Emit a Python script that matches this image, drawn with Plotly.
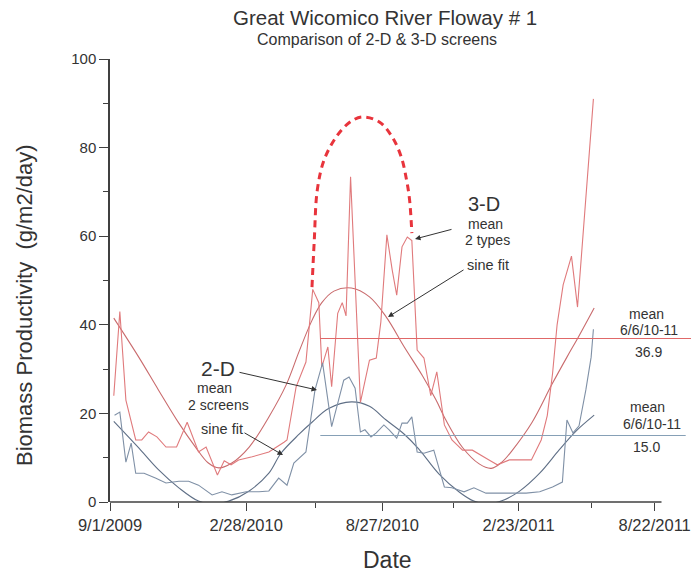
import plotly.graph_objects as go

# ---------------- data ----------------
d3_dates = ["2009-09-06","2009-09-14","2009-09-22","2009-10-05","2009-10-13","2009-10-22","2009-11-02",
            "2009-11-14","2009-11-28","2009-12-12","2009-12-27","2010-01-06","2010-01-21","2010-01-30",
            "2010-02-08","2010-02-18","2010-03-08","2010-03-30","2010-04-19","2010-04-23","2010-05-05",
            "2010-05-18","2010-05-27","2010-06-04","2010-06-08","2010-06-16","2010-06-21","2010-06-29",
            "2010-07-05","2010-07-10","2010-07-16","2010-07-29","2010-08-10","2010-08-19","2010-08-25",
            "2010-09-02","2010-09-09","2010-09-15","2010-09-22","2010-09-29","2010-10-05","2010-10-12",
            "2010-10-21","2010-10-30","2010-11-07","2010-11-17","2010-11-27","2010-12-11","2010-12-24",
            "2011-01-05","2011-01-15","2011-01-26","2011-02-11","2011-02-24","2011-03-12","2011-03-25",
            "2011-04-02","2011-04-09","2011-04-15","2011-04-23","2011-05-04","2011-05-12","2011-06-02"]
d3_values = [24, 43, 23, 14, 14, 15.8, 14.7, 12.4, 12.4, 18, 11.3, 12.4, 6.1, 9.3, 8.4, 9.5, 10.2, 11.3,
             13.5, 14, 26, 31.6, 48, 45, 30.5, 35, 26, 42.6, 45, 42, 73.4, 22.5, 32, 32.5, 40.6, 60.3,
             52.4, 46.7, 57.6, 59.8, 59, 34.3, 32.5, 24, 29.4, 17.4, 14, 11.7, 11.7, 10.6, 9.5, 8.4, 9.5,
             9.5, 9.5, 14, 19.5, 29, 40, 49, 55.5, 44, 91]

d2_dates = ["2009-09-07","2009-09-14","2009-09-22","2009-09-29","2009-10-05","2009-10-16","2009-10-31",
            "2009-11-14","2009-12-01","2009-12-14","2009-12-27","2010-01-14","2010-01-27","2010-02-09",
            "2010-02-28","2010-03-17","2010-03-30","2010-04-12","2010-04-23","2010-05-02","2010-05-18",
            "2010-05-26","2010-05-30","2010-06-09","2010-06-21","2010-07-07","2010-07-14","2010-07-22",
            "2010-07-29","2010-08-04","2010-08-12","2010-08-19","2010-08-29","2010-09-05","2010-09-15",
            "2010-09-22","2010-09-29","2010-10-05","2010-10-12","2010-10-21","2010-11-03","2010-11-17",
            "2010-11-27","2010-12-13","2010-12-26","2011-01-11","2011-01-28","2011-02-14","2011-03-05",
            "2011-03-23","2011-04-09","2011-04-22","2011-04-28","2011-05-06","2011-05-14","2011-05-23",
            "2011-05-30","2011-06-02"]
d2_values = [19.6, 20.3, 9, 13.3, 6.5, 6.5, 5.4, 4.3, 4.7, 4.7, 3.8, 1.6, 2.3, 1.6, 2.3, 2.3, 2.5, 5.4,
             3.8, 8.8, 11.3, 20, 25.3, 31.4, 17, 27.5, 28.2, 25.7, 15.8, 16.3, 14.7, 15.6, 17.4, 16.3,
             14.4, 17.8, 17.8, 19.2, 11.3, 11, 11.7, 3.4, 3.2, 2.3, 3.2, 2, 2, 2, 2, 2.3, 3.4, 4.5, 18.5,
             15.6, 17.2, 25.3, 32.7, 39]

sine3_dates = ["2009-09-06","2009-10-09","2009-11-04","2009-12-01","2009-12-23","2010-01-09","2010-01-23",
               "2010-02-09","2010-03-04","2010-03-30","2010-04-22","2010-05-09","2010-05-26","2010-06-08",
               "2010-06-24","2010-07-17","2010-08-10","2010-09-01","2010-09-25","2010-10-19","2010-11-06",
               "2010-11-19","2010-12-11","2011-01-02","2011-01-18","2011-02-01","2011-02-14","2011-03-13",
               "2011-04-08","2011-04-28","2011-05-13","2011-06-03"]
sine3_values = [41.5, 32.7, 25.3, 17.8, 12.4, 8.8, 7.7, 8.8, 12.4, 19.2, 26.5, 34, 41, 45, 47.6, 48.3,
                46.3, 41.8, 35, 28.5, 23, 18.5, 12.3, 8.6, 7.6, 9.0, 11.5, 18, 26.5, 32.7, 37.2, 43.8]

sine2_dates = ["2009-09-06","2009-10-09","2009-11-04","2009-12-01","2009-12-27","2010-01-14","2010-02-05",
               "2010-03-04","2010-03-30","2010-04-15","2010-05-09","2010-05-26","2010-06-17","2010-07-17",
               "2010-08-10","2010-09-01","2010-09-25","2010-10-14","2010-11-10","2010-12-07","2010-12-26",
               "2011-01-14","2011-02-01","2011-02-24","2011-03-23","2011-04-18","2011-05-10","2011-06-03"]
sine2_values = [18.2, 12.2, 7.3, 3.2, 0.2, -0.4, 0.2, 2.5, 6.5, 11, 15.3, 18, 21.1, 22.6, 21.6, 18.5,
                15.3, 12, 6.3, 2.2, 0.2, -0.4, 0.3, 2.4, 6.5, 11.8, 16, 19.6]

dash_dates = ["2010-05-26","2010-05-29","2010-06-02","2010-06-11","2010-06-27","2010-07-14","2010-07-31",
              "2010-08-23","2010-09-09","2010-09-21","2010-09-28","2010-10-02","2010-10-05"]
dash_values = [48.5, 59, 70.4, 77.2, 82.4, 85.6, 86.9, 85.8, 82.4, 77.9, 72.7, 68.2, 60.7]

mean3_dates = ["2010-06-06", "2011-10-09"]
mean3_value = 36.9
mean2_dates = ["2010-06-06", "2011-10-02"]
mean2_value = 15.0

x_tickvals = ["2009-09-01", "2010-02-28", "2010-08-27", "2011-02-23", "2011-08-22"]
x_ticktext = ["9/1/2009", "2/28/2010", "8/27/2010", "2/23/2011", "8/22/2011"]
x_minor = ["2009-11-30", "2010-05-30", "2010-11-29", "2011-05-30"]
y_tickvals = [0, 20, 40, 60, 80, 100]
y_minor = [10, 30, 50, 70, 90]

# ---------------- styling ----------------
FONT = "Liberation Sans, Arial, sans-serif"
TXT = "#333333"
AX = "#404040"
RED_DATA = "#e07a7c"
RED_SINE = "#c96b6d"
RED_MEAN = "#e06868"
BLUE_DATA = "#7f90a6"
BLUE_SINE = "#5f6f86"
BLUE_MEAN = "#86a0b6"

L, R, T, B = 110, 691, 59, 502   # plot area in pixels


def PX(x):
    return (x - L) / (R - L)


def PY(y):
    return (B - y) / (B - T)


fig = go.Figure()
fig.add_trace(go.Scatter(x=sine3_dates, y=sine3_values, mode="lines", line=dict(color=RED_SINE, width=1.1, shape="spline")))
fig.add_trace(go.Scatter(x=sine2_dates, y=sine2_values, mode="lines", line=dict(color=BLUE_SINE, width=1.1, shape="spline")))
fig.add_trace(go.Scatter(x=d3_dates, y=d3_values, mode="lines", line=dict(color=RED_DATA, width=1.1)))
fig.add_trace(go.Scatter(x=d2_dates, y=d2_values, mode="lines", line=dict(color=BLUE_DATA, width=1.1)))
fig.add_trace(go.Scatter(x=mean3_dates, y=[mean3_value] * 2, mode="lines", line=dict(color=RED_MEAN, width=1.1)))
fig.add_trace(go.Scatter(x=mean2_dates, y=[mean2_value] * 2, mode="lines", line=dict(color=BLUE_MEAN, width=1.1)))
fig.add_trace(go.Scatter(x=dash_dates, y=dash_values, mode="lines",
                         line=dict(color="#e8343c", width=3, dash="7px,5px", shape="spline")))

fig.update_layout(
    width=691, height=577,
    margin=dict(l=L, r=691 - R, t=T, b=577 - B),
    plot_bgcolor="white", paper_bgcolor="white",
    showlegend=False,
    font=dict(family=FONT, color=TXT),
    xaxis=dict(
        range=["2009-09-01", "2011-10-09"],
        tickmode="array", tickvals=x_tickvals, ticktext=x_ticktext,
        ticks="outside", ticklen=8, tickwidth=1.3, tickcolor=AX,
        minor=dict(tickmode="array", tickvals=x_minor, ticks="outside", ticklen=5, tickwidth=1.3, tickcolor=AX),
        showline=False, showgrid=False, zeroline=False,
        tickfont=dict(size=16.5, family=FONT, color=TXT),
    ),
    yaxis=dict(
        range=[0, 100],
        tickmode="array", tickvals=y_tickvals,
        ticks="outside", ticklen=9, tickwidth=1.3, tickcolor=AX,
        minor=dict(tickmode="array", tickvals=y_minor, ticks="outside", ticklen=5, tickwidth=1.3, tickcolor=AX),
        showline=True, linewidth=1.5, linecolor=AX,
        showgrid=False, zeroline=False,
        tickfont=dict(size=15, family=FONT, color=TXT),
    ),
)

# x axis base line ends at 8/31/2011 like the reference
fig.add_shape(type="line", xref="x", yref="paper", x0="2009-09-01", x1="2011-08-31", y0=0, y1=0,
              line=dict(color=AX, width=1.5))


def text(x, y, s, size, **kw):
    fig.add_annotation(x=PX(x), y=PY(y), xref="paper", yref="paper", text=s, showarrow=False,
                       xanchor="center", yanchor="middle", borderpad=0,
                       font=dict(size=size, family=FONT, color=TXT), **kw)


def arrow(tx, ty, hx, hy):
    fig.add_annotation(x=PX(hx), y=PY(hy), xref="paper", yref="paper", text="", showarrow=True,
                       ax=tx - hx, ay=ty - hy, axref="pixel", ayref="pixel",
                       arrowhead=2, arrowsize=1.1, arrowwidth=1, arrowcolor="#333333", standoff=0)


text(385, 17, "Great Wicomico River Floway # 1", 20.5)
text(377, 40, "Comparison of 2-D &amp; 3-D screens", 16)
text(24, 305, "Biomass Productivity&nbsp; (g/m2/day)", 22, textangle=-90)
text(387, 560, "Date", 23)

text(484, 204, "3-D", 20)
text(485, 224, "mean", 14)
text(487, 240, "2 types", 14)
text(488, 265, "sine fit", 14.5)
arrow(453, 229, 415, 239)
arrow(465, 269, 388, 317)

text(218, 368, "2-D", 21)
text(214, 388.5, "mean", 14)
text(218, 404.5, "2 screens", 14)
text(222, 429, "sine fit", 14.5)
arrow(238, 372, 317, 390)
arrow(243, 432, 283, 455)

text(646, 314, "mean", 14)
text(649, 330, "6/6/10-11", 14)
text(648, 352, "36.9", 14)
text(647, 407, "mean", 14)
text(652, 424, "6/6/10-11", 14)
text(646, 447, "15.0", 14)

fig.write_html("out.html")
